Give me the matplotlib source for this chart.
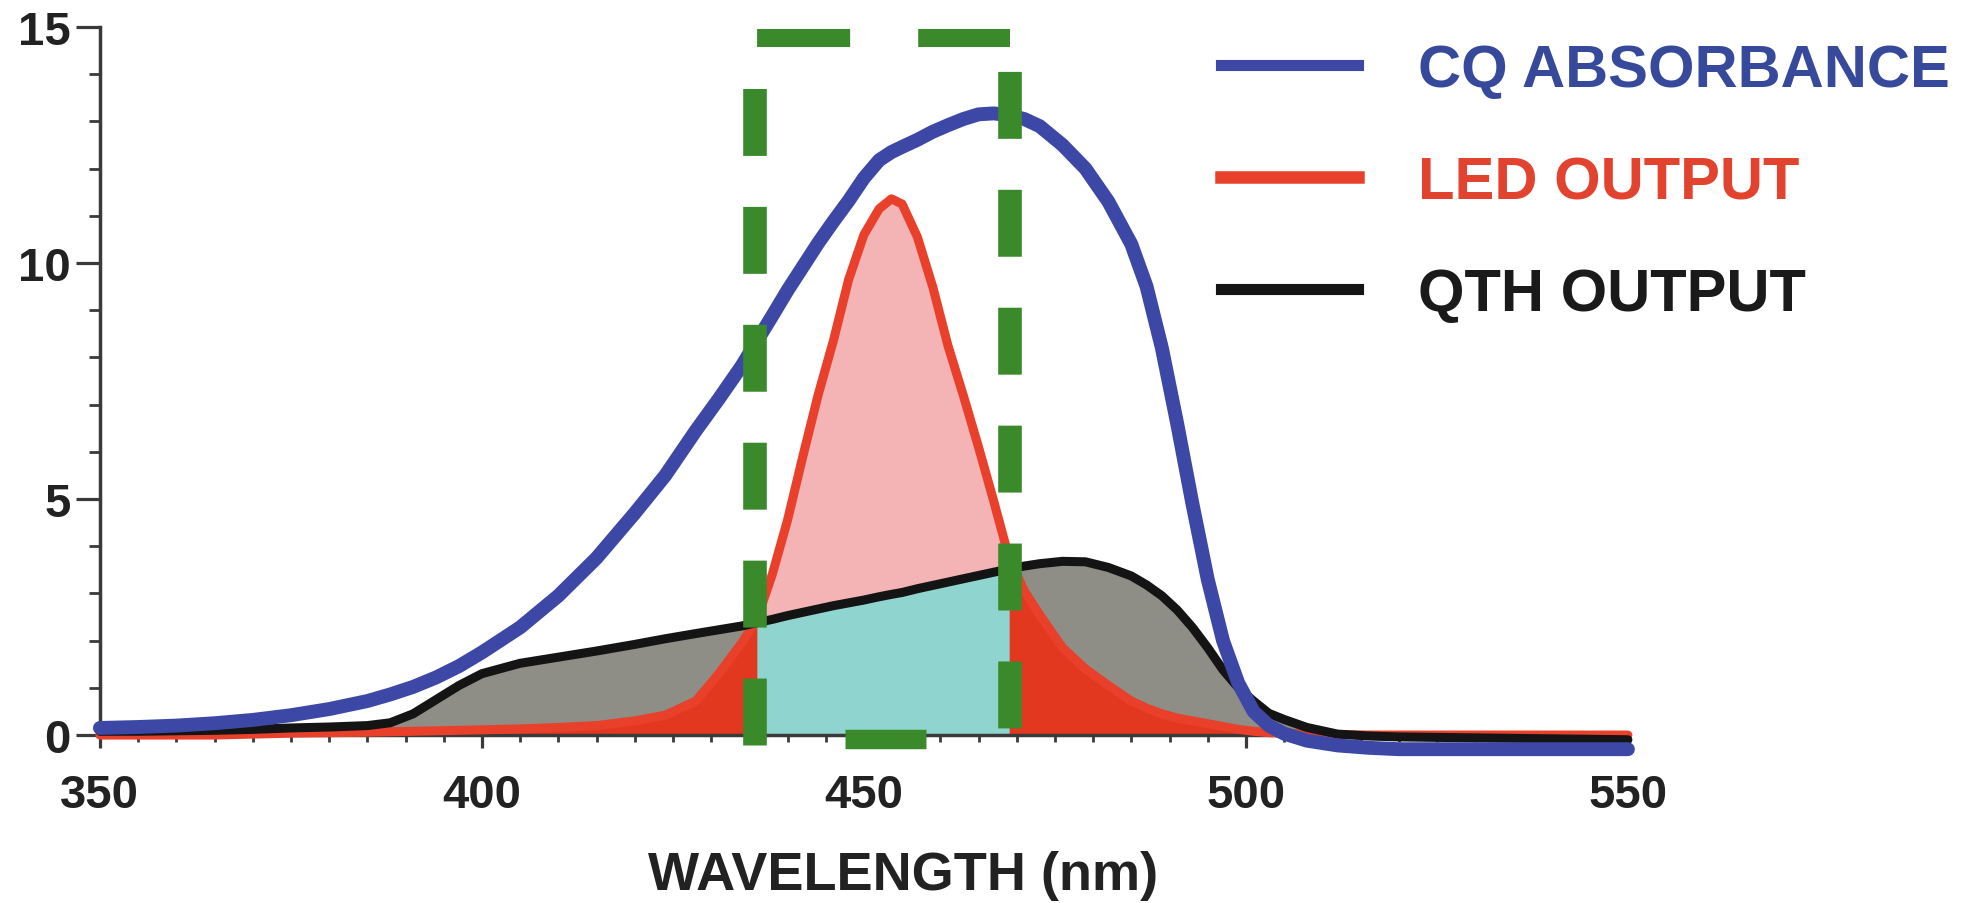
import matplotlib
matplotlib.use("Agg")
import matplotlib.pyplot as plt
from matplotlib.lines import Line2D
from matplotlib.ticker import MultipleLocator
import numpy as np

# ---------------- data ----------------
wavelength = [350, 355, 360, 365, 370, 375, 380, 385, 388, 391, 394, 397, 400, 405, 410,
              415, 420, 424, 428, 431, 434, 436, 438, 440, 442, 444, 446, 448, 450, 452,
              453.6, 455, 457, 459, 461, 463, 465, 467, 469, 471, 473, 476, 479, 482, 485,
              487, 489, 491, 493, 495, 497, 499, 501, 503, 505, 508, 512, 516, 520, 530,
              540, 550]

cq_absorbance = [0.15, 0.17, 0.20, 0.25, 0.32, 0.42, 0.55, 0.72, 0.86, 1.02, 1.22, 1.46, 1.75, 2.28, 2.95,
                 3.75, 4.70, 5.50, 6.45, 7.12, 7.82, 8.35, 8.88, 9.42, 9.92, 10.42, 10.88, 11.32, 11.80, 12.18,
                 12.35, 12.46, 12.61, 12.78, 12.92, 13.05, 13.15, 13.17, 13.13, 13.05, 12.90, 12.50, 12.00, 11.30, 10.40,
                 9.50, 8.20, 6.60, 4.90, 3.30, 2.00, 1.10, 0.50, 0.20, 0.03, -0.12, -0.22, -0.27, -0.30, -0.30,
                 -0.30, -0.30]

led_output = [0.0, 0.0, 0.0, 0.0, 0.02, 0.04, 0.05, 0.06, 0.07, 0.08, 0.09, 0.10, 0.11, 0.13, 0.16,
              0.20, 0.30, 0.42, 0.72, 1.30, 1.95, 2.45, 3.40, 4.55, 5.90, 7.20, 8.35, 9.65, 10.60, 11.15,
              11.36, 11.25, 10.55, 9.50, 8.25, 7.20, 6.10, 4.95, 3.75, 3.05, 2.55, 1.85, 1.40, 1.05, 0.72,
              0.57, 0.45, 0.36, 0.30, 0.24, 0.18, 0.12, 0.08, 0.05, 0.04, 0.02, 0.01, 0.0, 0.0, 0.0,
              0.0, 0.0]

qth_output = [0.08, 0.08, 0.09, 0.10, 0.12, 0.15, 0.17, 0.20, 0.26, 0.45, 0.75, 1.05, 1.30, 1.52, 1.65,
              1.78, 1.92, 2.04, 2.15, 2.23, 2.31, 2.38, 2.45, 2.53, 2.60, 2.67, 2.74, 2.80, 2.86, 2.93,
              2.98, 3.02, 3.10, 3.17, 3.24, 3.31, 3.38, 3.45, 3.52, 3.58, 3.63, 3.68, 3.67, 3.55, 3.37,
              3.18, 2.95, 2.65, 2.28, 1.85, 1.38, 1.00, 0.72, 0.46, 0.33, 0.16, 0.02, -0.02, -0.04, -0.06,
              -0.08, -0.10]

series_labels = ["CQ ABSORBANCE", "LED OUTPUT", "QTH OUTPUT"]
x_ticks = [350, 400, 450, 500, 550]
y_ticks = [0, 5, 10, 15]
x_label = "WAVELENGTH (nm)"

# highlighted band (green dashed box)
band_left, band_right = 436, 469          # wavelengths splitting the fills
box_left, box_right = 435.7, 469.1        # dashed box sides
box_top, box_bottom, box_base = 14.77, -0.25, -0.09

# ---------------- style ----------------
plt.rcParams["font.family"] = ["Liberation Sans", "DejaVu Sans"]
plt.rcParams["font.weight"] = "bold"
plt.rcParams["lines.scale_dashes"] = False

C_BLUE = "#3d48a6"
C_RED = "#e8402a"
C_REDFILL = "#e2381f"
C_PINK = "#f4b4b6"
C_CYAN = "#8fd4ce"
C_GRAY = "#8e8e86"
C_BLACK = "#141414"
C_GREEN = "#3a8a2c"

fig = plt.figure(figsize=(19.63, 9.04), dpi=100)
ax = fig.add_axes([0.0509, 0.1858, 0.7784, 0.7832])

wl = np.array(wavelength)
cq = np.array(cq_absorbance)
led = np.array(led_output)
qth = np.array(qth_output)

inside = (wl >= band_left) & (wl <= band_right)
left_part = wl <= band_left
right_part = wl >= band_right

# fills
ax.fill_between(wl, 0, qth, color=C_GRAY, lw=0, zorder=1, clip_on=False)
ax.fill_between(wl, 0, led, where=left_part, color=C_REDFILL, lw=0, zorder=2, clip_on=False)
ax.fill_between(wl, 0, led, where=right_part, color=C_REDFILL, lw=0, zorder=2, clip_on=False)
ax.fill_between(wl, 0, qth, where=inside, color=C_CYAN, lw=0, zorder=2, clip_on=False)
ax.fill_between(wl, qth, led, where=inside, color=C_PINK, lw=0, zorder=2, clip_on=False)

# curves
ax.plot(wl, led, color=C_RED, lw=6.5, zorder=3, clip_on=False,
        solid_joinstyle="round", solid_capstyle="round")
ax.plot(wl, qth, color=C_BLACK, lw=6.5, zorder=4, clip_on=False,
        solid_joinstyle="round", solid_capstyle="round")
ax.plot(wl, cq, color=C_BLUE, lw=10, zorder=5, clip_on=False,
        solid_joinstyle="round", solid_capstyle="round")

# green dashed box (dash lengths in points)
ax.plot([box_left, box_left], [box_top, box_bottom], color=C_GREEN, lw=17,
        linestyle=(48.2, (48.2, 36.7)), dash_capstyle="butt", zorder=6, clip_on=False)
ax.plot([box_right, box_right], [box_top, box_bottom], color=C_GREEN, lw=17,
        linestyle=(60.5, (48.2, 36.7)), dash_capstyle="butt", zorder=6, clip_on=False)
ax.plot([box_left, box_right], [box_top, box_top], color=C_GREEN, lw=13,
        linestyle=(114.5, (67.0, 49.0)), dash_capstyle="butt", zorder=6, clip_on=False)
ax.plot([box_left, box_right], [box_base, box_base], color=C_GREEN, lw=14,
        linestyle=(137.5, (58.3, 144.0)), dash_capstyle="butt", zorder=6, clip_on=False)

# axes
ax.set_xlim(350, 550)
ax.set_ylim(0, 15)
ax.set_xticks(x_ticks)
ax.set_yticks(y_ticks)
ax.xaxis.set_minor_locator(MultipleLocator(5))
ax.yaxis.set_minor_locator(MultipleLocator(1))
for s in ("top", "right"):
    ax.spines[s].set_visible(False)
for s in ("left", "bottom"):
    ax.spines[s].set_color("#3a3a3a")
    ax.spines[s].set_linewidth(2.5)
ax.tick_params(axis="y", which="major", length=17, width=2.3, color="#3a3a3a",
               direction="out", pad=4, labelsize=34, labelcolor="#222222")
ax.tick_params(axis="y", which="minor", length=8, width=2.0, color="#3a3a3a", direction="out")
ax.tick_params(axis="x", which="major", length=9, width=2.3, color="#3a3a3a",
               direction="out", pad=18, labelsize=34, labelcolor="#222222")
ax.tick_params(axis="x", which="minor", length=5, width=2.0, color="#3a3a3a", direction="out")
for lab in ax.get_xticklabels() + ax.get_yticklabels():
    lab.set_fontweight("bold")

ax.set_xlabel(x_label, fontsize=39, fontweight="bold", color="#222222", va="center")
ax.xaxis.set_label_coords(0.5255, -0.198)

# legend
handles = [Line2D([], [], color=C_BLUE, lw=8),
           Line2D([], [], color=C_RED, lw=9),
           Line2D([], [], color=C_BLACK, lw=8)]
leg = ax.legend(handles, series_labels, loc="upper left", bbox_to_anchor=(0.622, 0.951),
                bbox_transform=fig.transFigure, frameon=False, borderpad=0, borderaxespad=0,
                handlelength=2.3, handletextpad=1.0, labelspacing=0.95,
                prop={"family": "Liberation Sans", "weight": "bold", "size": 43},
                labelcolor=["#36499a", "#e2432f", "#1a1a1a"])

fig.savefig("out.png", dpi=100, facecolor="white")
